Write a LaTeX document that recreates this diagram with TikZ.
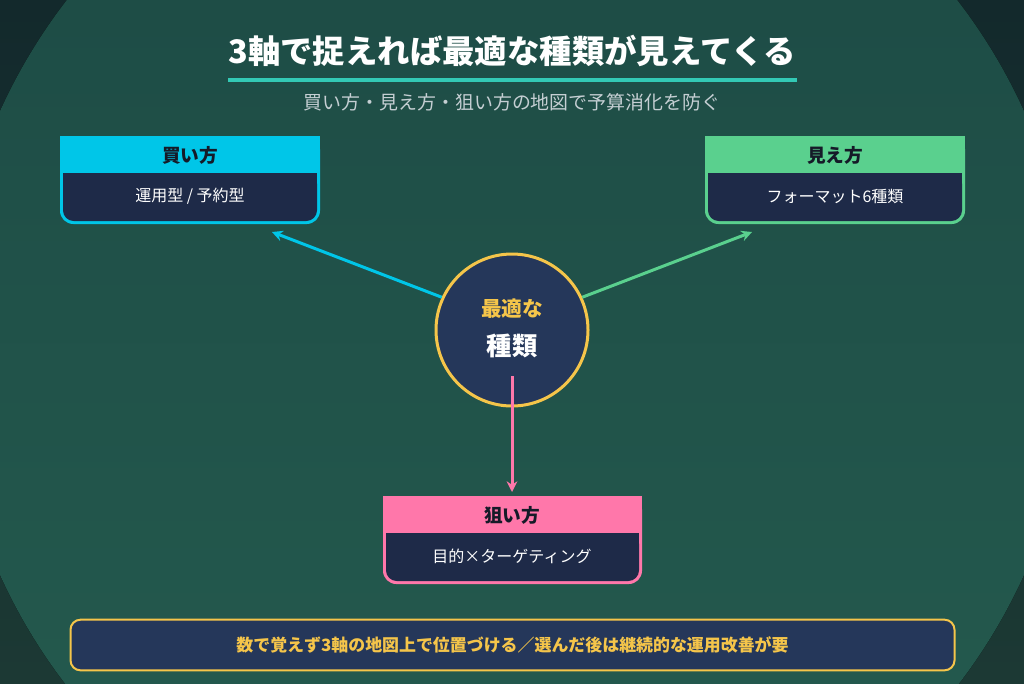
\documentclass[tikz,border=0pt]{standalone}
\usepackage{fontspec}
\setmainfont{Noto Sans CJK JP}
\usetikzlibrary{arrows.meta}
\definecolor{bgtop}{HTML}{13292C}
\definecolor{bgbot}{HTML}{1C3934}
\definecolor{disctop}{HTML}{1C4944}
\definecolor{discbot}{HTML}{255C4F}
\definecolor{cyanc}{HTML}{00C6E8}
\definecolor{greenc}{HTML}{5AD08E}
\definecolor{pinkc}{HTML}{FF77AA}
\definecolor{navyc}{HTML}{1E2A48}
\definecolor{corec}{HTML}{25375A}
\definecolor{yellowc}{HTML}{F5C54A}
\definecolor{tealc}{HTML}{33C9B5}
\definecolor{subc}{HTML}{C5CFD3}
\definecolor{headtxt}{HTML}{151A28}
\tikzset{
  headtext/.style={text=headtxt,font=\fontsize{14}{16}\selectfont\bfseries,inner sep=0pt},
  bodytext/.style={text=white,font=\fontsize{12}{14}\selectfont,inner sep=0pt},
  arr/.style={line width=2.25pt,-{Stealth[length=8pt,width=8pt]}},
}
\begin{document}
\begin{tikzpicture}[x=0.75pt,y=-0.75pt]
\useasboundingbox (0,0) rectangle (1024,683);
\begin{scope}
\clip (0,0) rectangle (1024,683);
\fill[top color=bgtop,bottom color=bgbot] (0,0) rectangle (1024,683);
\fill[top color=disctop,bottom color=discbot] (512,343) circle (562);
\end{scope}

% title
\node[text=white,font=\fontsize{24.3}{28}\selectfont\bfseries,inner sep=0pt] (title) at (512,51) {3軸で捉えれば最適な種類が見えてくる};
\draw[tealc,line width=3pt] (228,80) -- (797,80);
\node[text=subc,font=\fontsize{14.2}{17}\selectfont,inner sep=0pt] (subtitle) at (512,102) {買い方・見え方・狙い方の地図で予算消化を防ぐ};

% buy box
\fill[cyanc,rounded corners=10] (60,136) rectangle (320,224);
\fill[cyanc] (60,136) rectangle (320,180);
\fill[navyc,rounded corners=8] (63,173) rectangle (317,221);
\fill[navyc] (63,173) rectangle (317,190);
\node[headtext] (buyhead) at (190,155) {買い方};
\node[bodytext] (buybody) at (190,196) {運用型 / 予約型};
\coordinate (buytip) at (272,232);

% see box
\fill[greenc,rounded corners=10] (705,136) rectangle (965,224);
\fill[greenc] (705,136) rectangle (965,180);
\fill[navyc,rounded corners=8] (708,173) rectangle (962,221);
\fill[navyc] (708,173) rectangle (962,190);
\node[headtext] (seehead) at (835,155) {見え方};
\node[bodytext] (seebody) at (835,196) {フォーマット6種類};
\coordinate (seetip) at (752,232);

% aim box
\fill[pinkc,rounded corners=10] (383,496) rectangle (642,584);
\fill[pinkc] (383,496) rectangle (642,540);
\fill[navyc,rounded corners=8] (386,533) rectangle (639,581);
\fill[navyc] (386,533) rectangle (639,550);
\node[headtext] (aimhead) at (512,515) {狙い方};
\node[bodytext] (aimbody) at (512,556) {目的×ターゲティング};
\coordinate (aimtip) at (512,492);

% core circle
\node[circle,draw=yellowc,line width=2.25pt,fill=corec,minimum size=114pt,inner sep=0pt] (core) at (512,330) {};
\node[text=yellowc,font=\fontsize{15.5}{18}\selectfont\bfseries,inner sep=0pt] (corea) at (512,309) {最適な};
\node[text=white,font=\fontsize{19}{22}\selectfont\bfseries,inner sep=0pt] (coreb) at (512,346) {種類};
\coordinate (pinkstart) at (512,376);

% arrows
\draw[arr,cyanc] (core.155) -- (buytip);
\draw[arr,greenc] (core.25) -- (seetip);
\draw[arr,pinkc] (pinkstart) -- (aimtip);

% banner
\node[draw=yellowc,line width=1.5pt,fill=corec,rounded corners=7.5pt,minimum width=663pt,minimum height=38pt,inner sep=0pt,text=yellowc,font=\fontsize{12.7}{15}\selectfont\bfseries] (note) at (512.5,645) {数で覚えず3軸の地図上で位置づける／選んだ後は継続的な運用改善が要};
\end{tikzpicture}
\end{document}
